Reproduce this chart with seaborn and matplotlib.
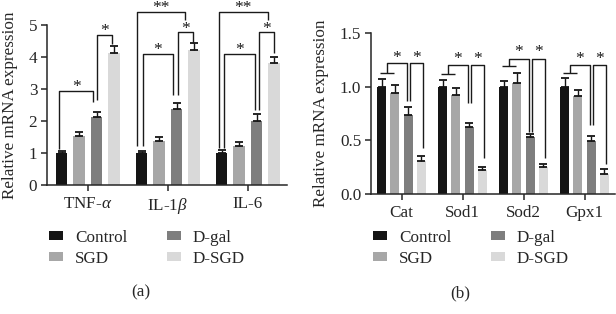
import matplotlib
matplotlib.use("Agg")
import matplotlib.pyplot as plt
import seaborn as sns
import pandas as pd
import numpy as np

# ---------------- data ----------------
groups = ["Control", "SGD", "D-gal", "D-SGD"]
colors = ["#151515", "#a7a7a7", "#7e7e7e", "#d9d9d9"]

genes_a = ["TNF-$\\alpha$", "IL-1$\\beta$", "IL-6"]
control_a = [1.00, 1.00, 1.00]
sgd_a = [1.53, 1.37, 1.22]
dgal_a = [2.14, 2.37, 2.01]
dsgd_a = [4.13, 4.22, 3.80]
err_control_a = [0.05, 0.05, 0.08]
err_sgd_a = [0.12, 0.12, 0.13]
err_dgal_a = [0.15, 0.18, 0.22]
err_dsgd_a = [0.21, 0.22, 0.20]

genes_b = ["Cat", "Sod1", "Sod2", "Gpx1"]
control_b = [1.00, 1.00, 1.00, 1.00]
sgd_b = [0.94, 0.92, 1.03, 0.91]
dgal_b = [0.74, 0.62, 0.53, 0.49]
dsgd_b = [0.31, 0.22, 0.25, 0.19]
err_control_b = [0.07, 0.06, 0.05, 0.08]
err_sgd_b = [0.08, 0.07, 0.10, 0.06]
err_dgal_b = [0.07, 0.04, 0.03, 0.05]
err_dsgd_b = [0.04, 0.03, 0.03, 0.04]

yticks_a = [0, 1, 2, 3, 4, 5]
yticks_b = [0.0, 0.5, 1.0, 1.5]

# ---------------- style ----------------
sns.set_style("ticks")
plt.rcParams["font.family"] = ["Liberation Serif", "DejaVu Serif"]
plt.rcParams["mathtext.fontset"] = "custom"
plt.rcParams["mathtext.rm"] = "Liberation Serif"
plt.rcParams["mathtext.it"] = "Liberation Serif:italic"
FS = 12.3
LW = 1.1

fig = plt.figure(figsize=(6.16, 3.14), dpi=100)
W, H = 616, 314
ax_a = fig.add_axes([47 / W, 1 - 185 / H, 240 / W, 160 / H])
ax_b = fig.add_axes([371 / W, 1 - 194 / H, 244 / W, 161 / H])


def make_df(genes, vals):
    rows = []
    for g, series in zip(groups, vals):
        for gene, v in zip(genes, series):
            rows.append({"gene": gene, "group": g, "value": v})
    return pd.DataFrame(rows)


def draw(ax, genes, vals, errs, yticks, fmt, ylpad):
    df = make_df(genes, vals)
    sns.barplot(data=df, x="gene", y="value", hue="group", hue_order=groups,
                palette=colors, width=0.87, gap=0.34, errorbar=None,
                saturation=1, linewidth=0, ax=ax)
    # error bars (upper only) at seaborn's bar positions
    for cont, e in zip(ax.containers, errs):
        xs = [p.get_x() + p.get_width() / 2 for p in cont]
        hs = [p.get_height() for p in cont]
        ax.errorbar(xs, hs, yerr=[np.zeros(len(e)), e], fmt="none",
                    ecolor="#151515", elinewidth=1.0, capsize=2.6,
                    capthick=1.3, zorder=3)
    ax.set_ylim(yticks[0], yticks[-1])
    ax.set_yticks(yticks)
    ax.set_yticklabels([fmt.format(t) for t in yticks], fontsize=FS)
    ax.set_xlabel("")
    ax.set_ylabel("Relative mRNA expression", fontsize=FS, labelpad=ylpad)
    ax.tick_params(axis="x", labelsize=FS, length=4, width=LW, pad=4)
    ax.tick_params(axis="y", length=4, width=LW, pad=3)
    for s in ["left", "bottom"]:
        ax.spines[s].set_linewidth(LW)
    sns.despine(ax=ax)
    return ax


def bar_x(ax, hue_i, cat_i):
    p = ax.containers[hue_i][cat_i]
    return p.get_x() + p.get_width() / 2


def seg(ax, xs, ys):
    ax.plot(xs, ys, color="#1a1a1a", lw=1.0, clip_on=False, zorder=4,
            solid_capstyle="butt")


def star(ax, x, y, label):
    ax.text(x, y, label, ha="center", va="center", fontsize=12.5,
            color="#1a1a1a", clip_on=False)


draw(ax_a, genes_a, [control_a, sgd_a, dgal_a, dsgd_a],
     [err_control_a, err_sgd_a, err_dgal_a, err_dsgd_a], yticks_a, "{:.0f}", 8)
ax_a.set_xlim(-0.51, 2.49)

draw(ax_b, genes_b, [control_b, sgd_b, dgal_b, dsgd_b],
     [err_control_b, err_sgd_b, err_dgal_b, err_dsgd_b], yticks_b, "{:.1f}", 8)
ax_b.set_xlim(-0.5, 3.5)

# ---------- significance brackets, panel (a) ----------
# (category, hue_left, hue_right, dx_left, dx_right, y_top, y_bot_left, y_bot_right, label)
brackets_a = [
    (0, 0, 2, -0.03, -0.04, 2.95, 1.12, 2.60, "*"),
    (0, 2, 3, 0.01, -0.02, 4.69, 2.66, 4.42, "*"),
    (1, 0, 2, 0.01, -0.05, 4.10, 1.22, 2.80, "*"),
    (1, 2, 3, 0.02, -0.01, 4.77, 2.80, 4.45, "*"),
    (1, 0, 3, -0.055, -0.11, 5.42, 1.22, 5.16, "**"),
    (2, 0, 2, 0.03, -0.02, 4.10, 1.15, 2.34, "*"),
    (2, 2, 3, 0.03, 0.0, 4.77, 2.34, 4.12, "*"),
    (2, 0, 3, -0.035, -0.08, 5.42, 1.15, 5.16, "**"),
]
for c, i, j, dl, dr, yt, yl, yr, lab in brackets_a:
    xl = bar_x(ax_a, i, c) + dl
    xr = bar_x(ax_a, j, c) + dr
    seg(ax_a, [xl, xl, xr, xr], [yl, yt, yt, yr])
    star(ax_a, (xl + xr) / 2, yt + 0.11, lab)

# ---------- significance brackets, panel (b) ----------
# (category, y_short, y_top, y_bot_dgal, y_bot_dsgd, y_star)
brackets_b = [
    (0, 1.13, 1.22, 0.87, 0.43, 1.27),
    (1, 1.115, 1.20, 0.85, 0.34, 1.26),
    (2, 1.19, 1.255, 0.58, 0.34, 1.32),
    (3, 1.125, 1.20, 0.64, 0.28, 1.26),
]
for c, ys, yt, yd, yds, yst in brackets_b:
    x0 = bar_x(ax_b, 0, c) - 0.03
    x1 = bar_x(ax_b, 1, c) - 0.02
    xm = (x0 + x1) / 2
    xg1 = bar_x(ax_b, 2, c) - 0.02
    xg2 = bar_x(ax_b, 2, c) + 0.03
    xs = bar_x(ax_b, 3, c) + 0.02
    seg(ax_b, [x0, x1], [ys, ys])
    seg(ax_b, [xm, xm, xg1, xg1], [ys, yt, yt, yd])
    seg(ax_b, [xg2, xg2, xs, xs], [yd, yt, yt, yds])
    star(ax_b, (xm + xg1) / 2, yst, "*")
    star(ax_b, (xg2 + xs) / 2, yst, "*")

# ---------- legends ----------
for ax, x0 in [(ax_a, 49), (ax_b, 373)]:
    sns.move_legend(ax, "upper left", bbox_to_anchor=(x0 / W, 1 - 230 / H),
                    bbox_transform=fig.transFigure, ncol=2, title=None,
                    frameon=False, borderpad=0, borderaxespad=0,
                    handlelength=0.82, handleheight=0.42, handletextpad=0.7,
                    columnspacing=2.3, labelspacing=0.27, fontsize=FS)

fig.text(141 / W, 1 - 292 / H, "(a)", ha="center", va="center", fontsize=FS)
fig.text(460 / W, 1 - 293 / H, "(b)", ha="center", va="center", fontsize=FS)

fig.savefig("out.png", dpi=100)
